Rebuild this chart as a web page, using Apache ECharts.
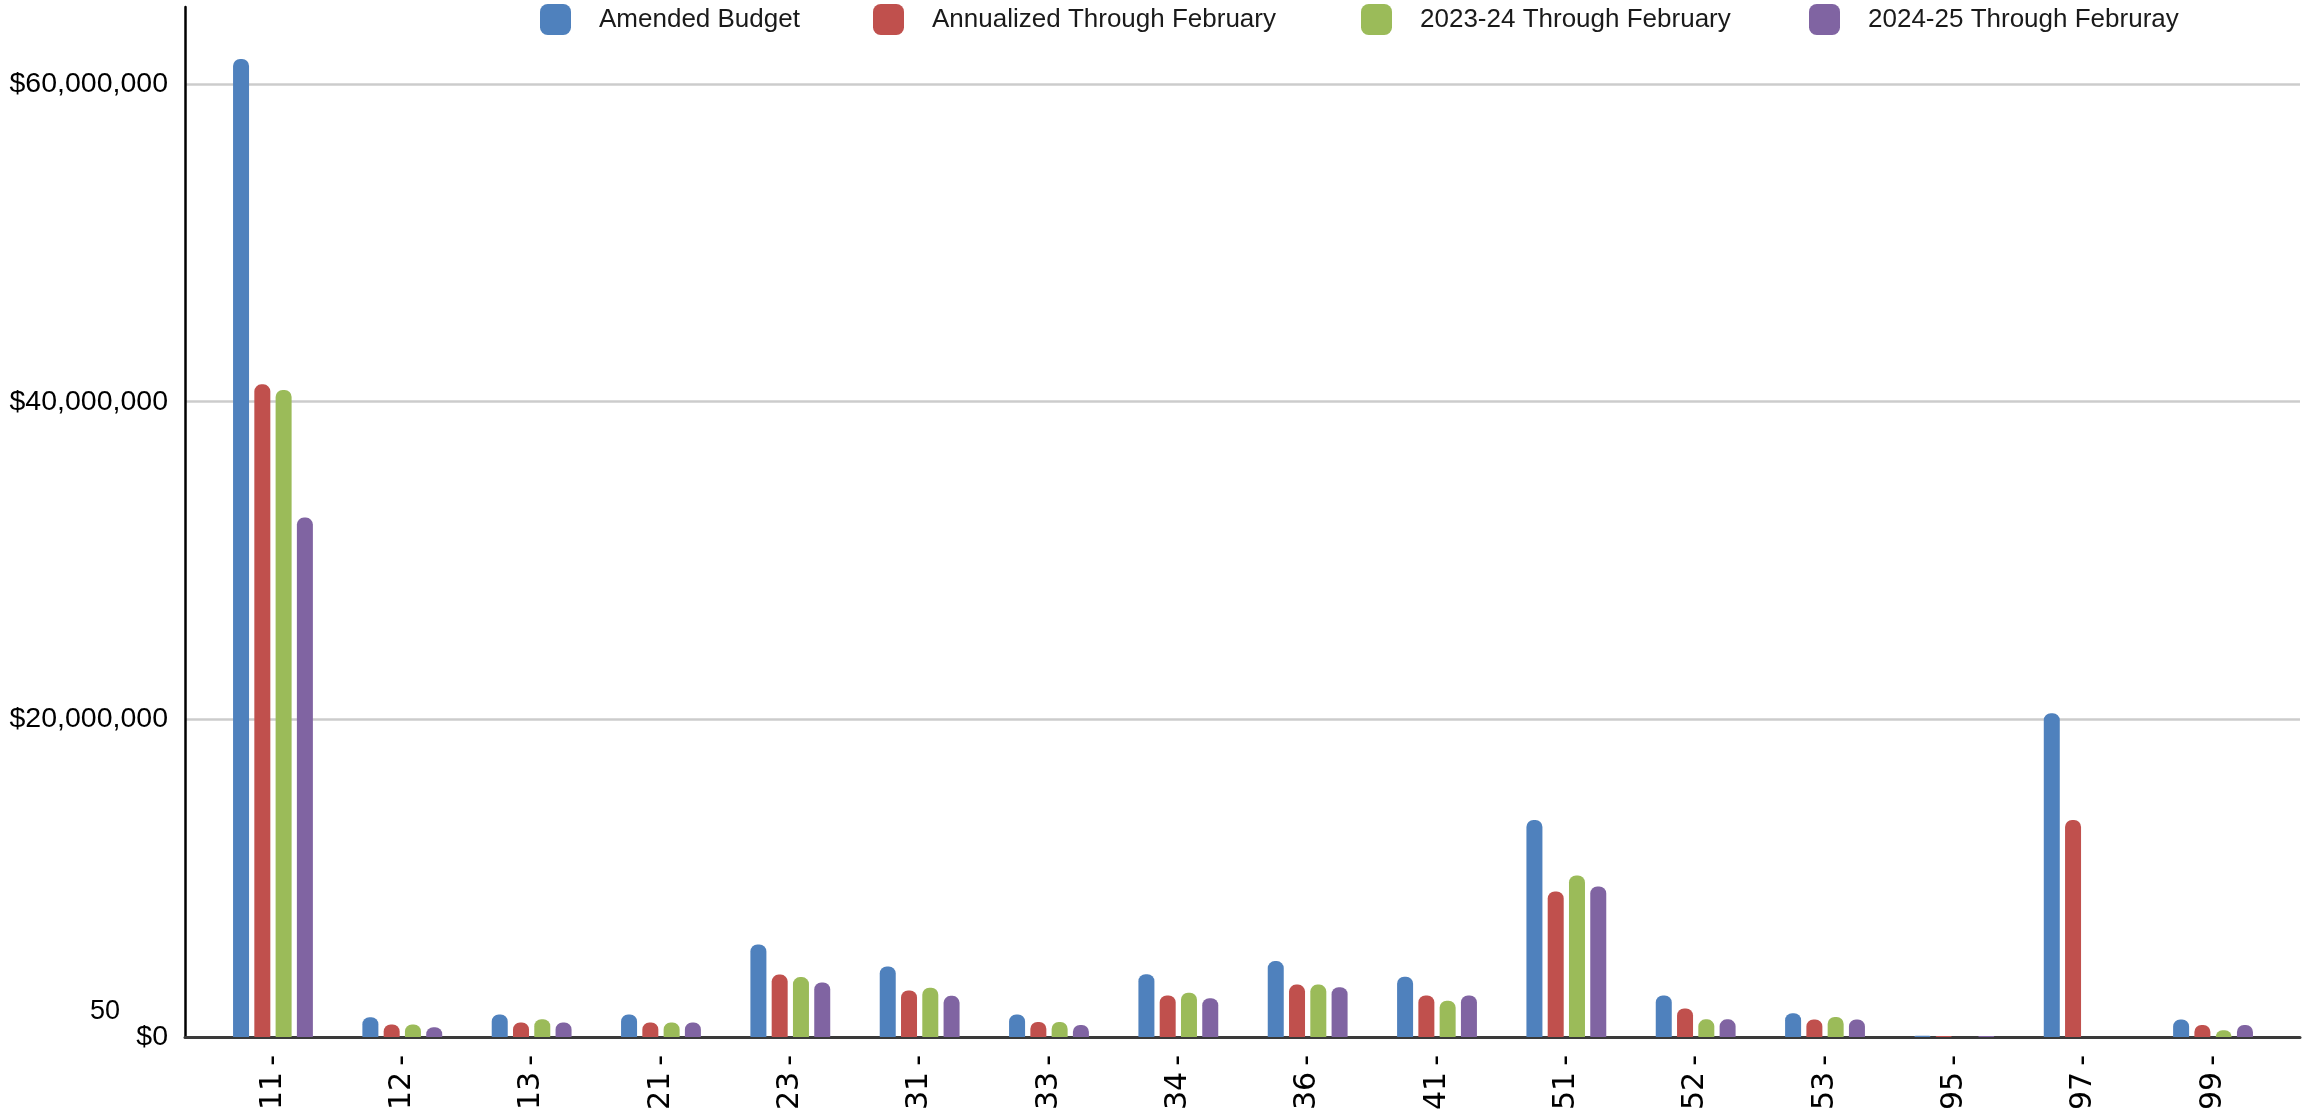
<!DOCTYPE html>
<html>
<head>
<meta charset="utf-8">
<style>
html,body{margin:0;padding:0;background:#fff;}
#chart{width:2308px;height:1113px;}
</style>
<script src="https://cdn.jsdelivr.net/npm/echarts@6/dist/echarts.min.js"></script>
</head>
<body>
<div id="chart"></div>
<script>
const categories = ['11','12','13','21','23','31','33','34','36','41','51','52','53','95','97','99'];
const seriesNames = ['Amended Budget','Annualized Through February','2023-24 Through February','2024-25 Through Februray'];
const amendedBudget = [61570000,1250000,1420000,1420000,5820000,4440000,1420000,3950000,4780000,3800000,13670000,2620000,1500000,80000,20390000,1100000];
const annualized = [41090000,790000,910000,910000,3930000,2930000,940000,2620000,3300000,2620000,9160000,1790000,1100000,60000,13670000,760000];
const fy2324 = [40730000,790000,1120000,910000,3770000,3100000,940000,2790000,3300000,2290000,10170000,1110000,1260000,0,0,420000];
const fy2425 = [32700000,620000,910000,910000,3430000,2590000,760000,2440000,3130000,2620000,9480000,1110000,1100000,60000,0,760000];
const yTicks = [0,20000000,40000000,60000000];
const colors = ['#4F81BD','#C0504D','#9BBB59','#8064A2'];

const chart = echarts.init(document.getElementById('chart'));
const dataSets = [amendedBudget, annualized, fy2324, fy2425];
const legendLefts = [540, 873, 1361, 1809];

const option = {
  animation: false,
  backgroundColor: '#ffffff',
  grid: [
    {left: 185, right: 8, top: 84, bottom: 76},
    {left: 185, right: 8, top: 7, bottom: 76},
    {left: 208.3, right: 30.3, top: 7, bottom: 76}
  ],
  legend: seriesNames.map((n, i) => ({
    data: [n],
    left: legendLefts[i],
    top: 4,
    padding: 0,
    itemWidth: 31,
    itemHeight: 31,
    icon: 'roundRect',
    selectedMode: false,
    textStyle: {fontFamily: 'Liberation Sans', fontSize: 26, color: '#1a1a1a', padding: [2,0,0,23]}
  })),
  xAxis: [
    {gridIndex: 0, type: 'value', min: 0, max: 1, axisLine: {show: true, onZero: false, lineStyle: {color: '#3a3a3a', width: 3}}, axisTick: {show: false}, axisLabel: {show: false}, splitLine: {show: false}},
    {gridIndex: 1, type: 'value', min: 0, max: 1, show: false},
    {gridIndex: 2, type: 'category', data: categories,
      axisLine: {show: false}, axisTick: {show: false},
      axisLabel: {rotate: 90, margin: 18, fontFamily: 'DejaVu Sans', fontSize: 30, color: '#000', interval: 0,
        formatter: v => v + '\u2009-'}
    }
  ],
  yAxis: [
    {gridIndex: 0, type: 'value', min: yTicks[0], max: yTicks[yTicks.length-1], interval: yTicks[1]-yTicks[0],
      axisLine: {show: false}, axisTick: {show: false},
      axisLabel: {margin: 17, fontFamily: 'Liberation Sans', fontSize: 28.5, color: '#000',
        formatter: v => '$' + Number(v).toLocaleString('en-US')},
      splitLine: {show: true, lineStyle: {color: '#cccccc', width: 2.5}}
    },
    {gridIndex: 1, type: 'value', min: 0, max: 1,
      axisLine: {show: true, lineStyle: {color: '#000', width: 2.5}}, axisTick: {show: false}, axisLabel: {show: false}, splitLine: {show: false}},
    {gridIndex: 2, type: 'value', min: 0, max: 64848000, show: false}
  ],
  graphic: [
    {type: 'text', left: 90, top: 998, style: {text: '50', fontFamily: 'Liberation Sans', fontSize: 27, fill: '#000'}}
  ],
  series: seriesNames.map((n, i) => ({
    name: n,
    type: 'bar',
    xAxisIndex: 2,
    yAxisIndex: 2,
    data: dataSets[i],
    barWidth: 16,
    barGap: '33%',
    clip: false,
    itemStyle: {color: colors[i], borderRadius: [7,7,0,0]}
  })),
  color: colors
};
chart.setOption(option);
</script>
</body>
</html>
